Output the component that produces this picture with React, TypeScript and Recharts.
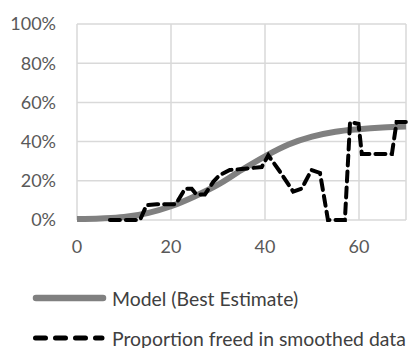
import { LineChart, Line, XAxis, YAxis, CartesianGrid } from 'recharts';

// model curve (best estimate)
const modelX = [0, 5, 10, 15, 20, 25, 30, 35, 40, 45, 50, 55, 60, 65, 70];
const modelY = [0.5, 0.8, 1.5, 3.5, 7, 12, 18, 25.5, 32.5, 38.5, 42.5, 45, 46.3, 47.2, 47.7];

// proportion freed in smoothed data
const dataX = [7, 13.4, 14.8, 17, 21, 23, 24.4, 25.4, 27.2, 29, 30.4, 32.5, 35, 39.3, 40.7, 43.2, 46, 47.8, 49.9, 51.7, 53.4, 57, 58.1, 59.9, 60.6, 67, 68, 70];
const dataY = [0, 0, 7.6, 8, 8, 16, 16, 13, 13, 19.5, 23, 25.5, 26, 27, 33, 24.6, 14.5, 16, 25.5, 24, 0, 0, 50, 49, 33.7, 33.7, 50, 50];

const xTicks = [0, 20, 40, 60];
const yTicks = [0, 20, 40, 60, 80, 100];

const model = modelX.map((x, i) => ({ x, y: modelY[i] }));
const freed = dataX.map((x, i) => ({ x, y: dataY[i] }));

const font = 'Lato, "Open Sans", sans-serif';

function LegendBox() {
  return (
    <div style={{ position: 'absolute', left: 0, top: 286, fontFamily: font, fontSize: 19.4, color: '#404040', whiteSpace: 'nowrap' }}>
      <div style={{ display: 'flex', alignItems: 'center', height: 24 }}>
        <svg width={80} height={10} style={{ marginLeft: 30, marginRight: 2 }}>
          <line x1={6} y1={5} x2={73} y2={5} stroke="#808080" strokeWidth={6.5} strokeLinecap="round" />
        </svg>
        <span>Model (Best Estimate)</span>
      </div>
      <div style={{ display: 'flex', alignItems: 'center', height: 24, marginTop: 16 }}>
        <svg width={80} height={10} style={{ marginLeft: 30, marginRight: 2 }}>
          <line x1={5.5} y1={5} x2={72} y2={5} stroke="#000" strokeWidth={5} strokeDasharray="10 10" strokeLinecap="round" />
        </svg>
        <span>Proportion freed in smoothed data</span>
      </div>
    </div>
  );
}

export default function App() {
  return (
    <div style={{ position: 'absolute', left: 0, top: 0, width: 414, height: 348 }}>
      <LineChart width={414} height={348} margin={{ top: 24, right: 8, left: 0, bottom: 98 }}>
        <CartesianGrid stroke="#d9d9d9" strokeWidth={1.5} />
        <XAxis
          dataKey="x"
          type="number"
          domain={[0, 70]}
          ticks={xTicks}
          interval={0}
          axisLine={false}
          tickLine={false}
          tickSize={0}
          tickMargin={20}
          tick={{ fill: '#595959', fontSize: 18, fontFamily: font }}
          allowDuplicatedCategory={false}
        />
        <YAxis
          type="number"
          domain={[0, 100]}
          ticks={yTicks}
          interval={0}
          width={77}
          axisLine={false}
          tickLine={false}
          tickSize={0}
          tickMargin={21}
          tickFormatter={(v: number) => `${v}%`}
          tick={{ fill: '#595959', fontSize: 18, fontFamily: font }}
        />
        <Line
          data={model}
          dataKey="y"
          type="monotone"
          stroke="#808080"
          strokeWidth={6}
          dot={false}
          isAnimationActive={false}
        />
        <Line
          data={freed}
          dataKey="y"
          type="linear"
          stroke="#000000"
          strokeWidth={4}
          strokeDasharray="10 6"
          strokeLinecap="round"
          dot={false}
          isAnimationActive={false}
        />
      </LineChart>
      <LegendBox />
    </div>
  );
}
